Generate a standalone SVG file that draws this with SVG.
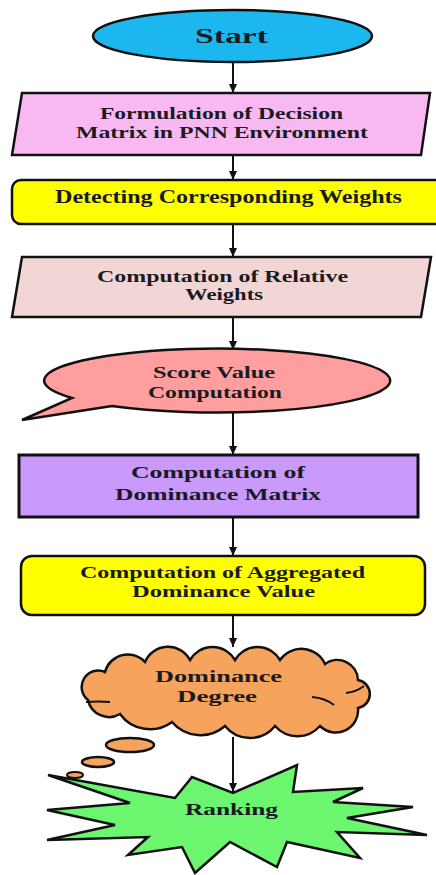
<svg xmlns="http://www.w3.org/2000/svg" width="436" height="875" viewBox="0 0 436 875">
<defs>
<marker id="arr" markerUnits="userSpaceOnUse" markerWidth="10" markerHeight="10" viewBox="0 0 10 10" refX="9" refY="5" orient="auto">
<path d="M0,1 L9,5 L0,9 z" fill="#111"/>
</marker>
<style>
.sh{stroke:#111;stroke-width:2.5;stroke-linejoin:miter}
.t{font-family:"Liberation Serif","Times New Roman",serif;font-weight:bold;font-size:17px;fill:#1a1a22}
.c line{stroke:#111;stroke-width:2;marker-end:url(#arr)}
</style>
</defs>
<g class="c">
<line x1="233" y1="62" x2="233" y2="93"/>
<line x1="233" y1="155" x2="233" y2="180"/>
<line x1="233" y1="224" x2="233" y2="257"/>
<line x1="233" y1="317" x2="233" y2="350"/>
<line x1="233" y1="413" x2="233" y2="455"/>
<line x1="233" y1="517" x2="233" y2="556"/>
<line x1="233" y1="615" x2="233" y2="647"/>
<line x1="233" y1="737" x2="233" y2="792"/>
</g>
<g id="start">
<ellipse class="sh" cx="232.5" cy="36" rx="139.5" ry="26" fill="#1cb7ef"/>
<text class="t" x="195" y="43" textLength="73" lengthAdjust="spacingAndGlyphs" style="font-size:22px">Start</text>
</g>
<g id="formulation">
<polygon class="sh" points="22,93 430,93 421,155 12,155" fill="#f8b9f3"/>
<text class="t" x="100" y="119" textLength="243" lengthAdjust="spacingAndGlyphs">Formulation of Decision</text>
<text class="t" x="76" y="138" textLength="292" lengthAdjust="spacingAndGlyphs">Matrix in PNN Environment</text>
</g>
<g id="detecting">
<rect class="sh" x="12" y="180" width="440" height="44" rx="9" fill="#ffff00"/>
<text class="t" x="55" y="203" textLength="347" lengthAdjust="spacingAndGlyphs" style="font-size:18px">Detecting Corresponding Weights</text>
</g>
<g id="relative">
<polygon class="sh" points="22,257 431,257 421,317 12,317" fill="#f2d6d6"/>
<text class="t" x="97" y="282" textLength="251" lengthAdjust="spacingAndGlyphs" style="font-size:16px">Computation of Relative</text>
<text class="t" x="185" y="300" textLength="78" lengthAdjust="spacingAndGlyphs" style="font-size:16px">Weights</text>
</g>
<g id="score">
<path class="sh" d="M112,406 L22,420 L72,398 A173,32 0 1 1 112,406 Z" fill="#ff9e9e"/>
<text class="t" x="153" y="378" textLength="122" lengthAdjust="spacingAndGlyphs">Score Value</text>
<text class="t" x="148" y="398" textLength="134" lengthAdjust="spacingAndGlyphs">Computation</text>
</g>
<g id="dominance-matrix">
<rect x="19" y="455" width="399" height="62" fill="#c999fb" stroke="#111" stroke-width="3"/>
<text class="t" x="131" y="478" textLength="174" lengthAdjust="spacingAndGlyphs">Computation of</text>
<text class="t" x="115" y="500" textLength="206" lengthAdjust="spacingAndGlyphs">Dominance Matrix</text>
</g>
<g id="aggregated">
<rect class="sh" x="21" y="556" width="404" height="59" rx="11" fill="#ffff00"/>
<text class="t" x="80" y="578" textLength="285" lengthAdjust="spacingAndGlyphs">Computation of Aggregated</text>
<text class="t" x="132" y="597" textLength="183" lengthAdjust="spacingAndGlyphs">Dominance Value</text>
</g>
<g id="degree">
<path class="sh" fill="#f6a35d" d="M105,672 A23.5,23.5 0 0 1 145,662 A25,25 0 0 1 190,660 A26,26 0 0 1 235,660 A26,26 0 0 1 280,660 A26,26 0 0 1 325,664 A20.7,20.7 0 0 1 358,680 A14.2,14.2 0 0 1 358,708 A22.3,22.3 0 0 1 320,726 A30,30 0 0 1 275,726 A32,32 0 0 1 225,726 A37.4,37.4 0 0 1 172,722 A37,37 0 0 1 120,714 A21.5,21.5 0 0 1 88,700 A16.5,16.5 0 0 1 105,672 Z"/>
<path d="M86,702 Q98,701 110,702 M346,693 Q356,692 364,686 M312,697 Q325,698 334,705" fill="none" stroke="#111" stroke-width="2"/>
<ellipse class="sh" cx="130" cy="745" rx="24" ry="7" fill="#f6a35d"/>
<ellipse class="sh" cx="98" cy="762" rx="16" ry="5" fill="#f6a35d"/>
<text class="t" x="155" y="682" textLength="127" lengthAdjust="spacingAndGlyphs">Dominance</text>
<text class="t" x="177" y="702" textLength="80" lengthAdjust="spacingAndGlyphs">Degree</text>
</g>
<g id="ranking">
<polygon class="sh" fill="#6cf56e" points="48,775 130,803 47,810 115,825 47,840 148,837 128,855 182,847 195,873 230,842 277,867 287,842 360,858 337,832 427,835 347,818 413,807 333,802 363,788 293,792 297,765 233,793 192,777 175,798"/>
<ellipse cx="75" cy="775" rx="8" ry="3" fill="#f6a35d" stroke="#111" stroke-width="2"/>
<text class="t" x="185" y="815" textLength="93" lengthAdjust="spacingAndGlyphs">Ranking</text>
</g>
</svg>
